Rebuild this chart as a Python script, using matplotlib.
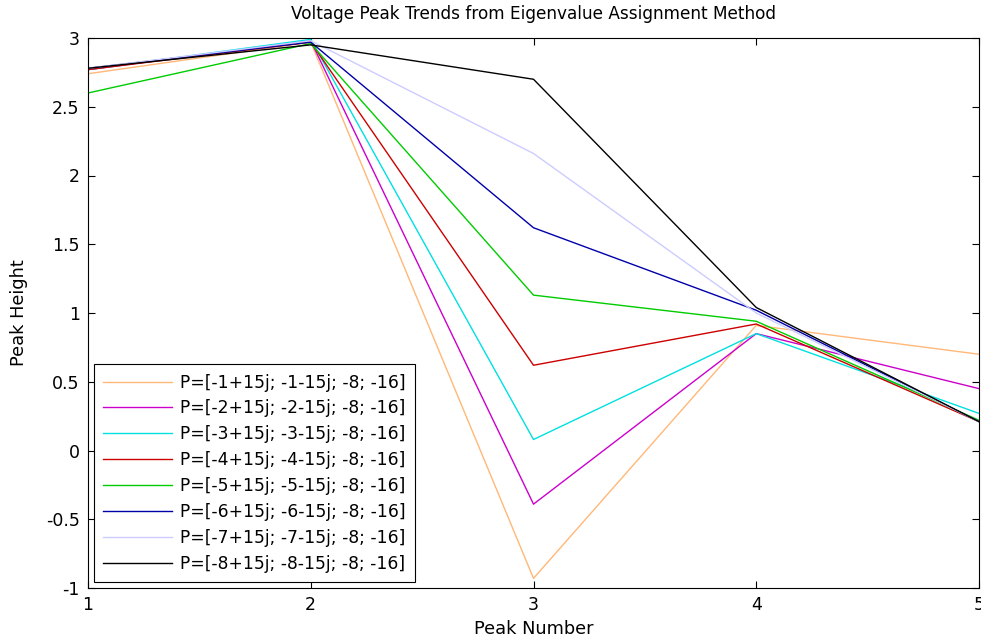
import numpy as np
import matplotlib.pyplot as plt

plt.rcParams['font.family'] = ['DejaVu Sans']

# Peak heights for each closed-loop pole set
peak_number = [1, 2, 3, 4, 5]
labels = [f"P=[-{k}+15j; -{k}-15j; -8; -16]" for k in range(1, 9)]
peaks = [
    [2.74, 2.97, -0.93, 0.91, 0.70],
    [2.77, 2.98, -0.39, 0.85, 0.45],
    [2.77, 2.99, 0.08, 0.85, 0.27],
    [2.77, 2.97, 0.62, 0.92, 0.21],
    [2.60, 2.96, 1.13, 0.94, 0.22],
    [2.78, 2.97, 1.62, 1.02, 0.21],
    [2.78, 2.98, 2.16, 1.00, 0.21],
    [2.78, 2.95, 2.70, 1.04, 0.21],
]
colors = ['#ffb878', '#cc00cc', '#00e0e0', '#cc0000',
          '#00cc00', '#0000aa', '#ccccff', '#000000']

fig = plt.figure(figsize=(9.81, 6.4), dpi=100)
ax = fig.add_axes([88 / 981, 1 - 588 / 640, (979 - 88) / 981, (588 - 38) / 640])

for vals, lab, c in zip(peaks, labels, colors):
    ax.plot(peak_number, vals, color=c, lw=1.0, label=lab)

ax.set_xlim(1, 5)
ax.set_ylim(-1, 3)
ax.set_xticks([1, 2, 3, 4, 5])
ax.set_yticks(np.arange(-1, 3.01, 0.5))
ax.set_yticklabels(['-1', '-0.5', '0', '0.5', '1', '1.5', '2', '2.5', '3'])
ax.tick_params(direction='in', top=True, right=True, length=5, labelsize=12.5, pad=6)
for s in ax.spines.values():
    s.set_linewidth(0.8)

ax.set_title('Voltage Peak Trends from Eigenvalue Assignment Method', fontsize=12.2, pad=14)
ax.set_xlabel('Peak Number', fontsize=12.8, labelpad=4)
ax.set_ylabel('Peak Height', fontsize=12.8, labelpad=13)

leg = ax.legend(loc='lower left', fontsize=12.3, fancybox=False, framealpha=1,
                edgecolor='black', handlelength=4.0, labelspacing=0.46,
                borderaxespad=0.35, handletextpad=0.5, borderpad=0.55)
leg.get_frame().set_linewidth(0.8)

fig.savefig('out.png', dpi=100)
